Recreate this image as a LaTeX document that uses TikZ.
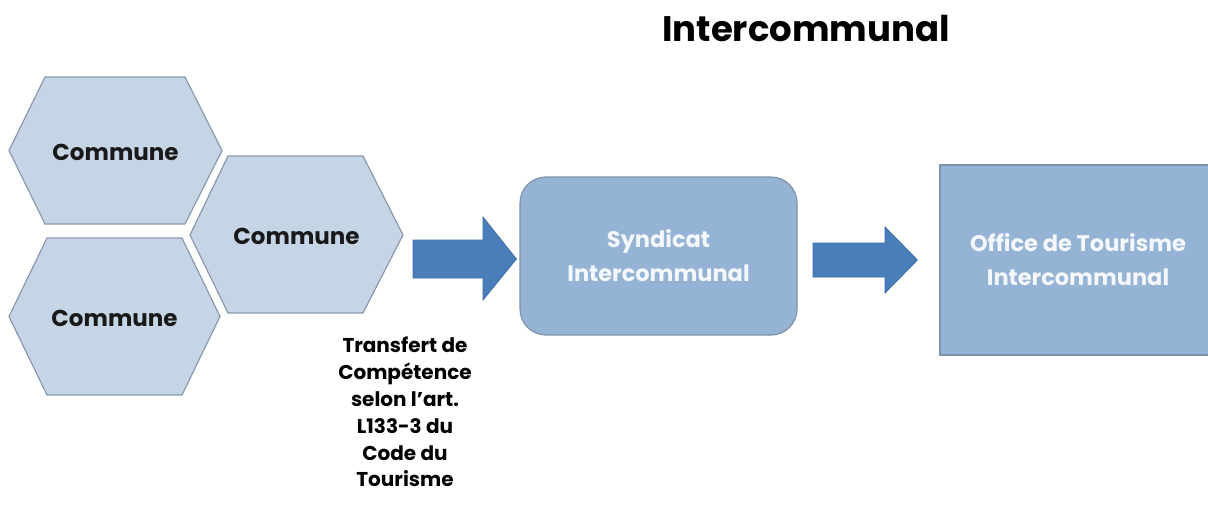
\documentclass[tikz,border=0pt]{standalone}
\usepackage{fontspec}
\setmainfont{Poppins}
\usetikzlibrary{calc}
\definecolor{hexfill}{HTML}{C6D5E6}
\definecolor{hexline}{HTML}{8A9AAE}
\definecolor{boxfill}{HTML}{95B3D4}
\definecolor{boxline}{HTML}{7E92A8}
\definecolor{arrowfill}{HTML}{4A7EBB}
\definecolor{arrowline}{HTML}{3F6EA5}
\definecolor{boxtext}{HTML}{F4F7FB}
\begin{document}
\begin{tikzpicture}[x=1pt,y=-1pt,
  hexa/.style={fill=hexfill,draw=hexline,line width=1.2pt,line join=miter},
  ctext/.style={font=\fontsize{23}{26}\selectfont\bfseries,text=black!90,inner sep=0pt},
  blockarrow/.style={fill=arrowfill,draw=arrowline,line width=0.8pt},
  bluebox/.style={fill=boxfill,draw=boxline,line width=1.2pt,align=center,text=boxtext,
    font=\fontsize{22.5}{34}\selectfont\bfseries,inner sep=0pt},
  caption/.style={align=center,font=\fontsize{20}{26.8}\selectfont\bfseries,inner sep=0pt,text=black}]
\useasboundingbox (0,0) rectangle (1208,519);
\fill[white] (0,0) rectangle (1208,519);
% title
\node[font=\fontsize{35.5}{40}\selectfont\bfseries,inner sep=0pt] (title) at (806,29) {Intercommunal};
% hexagons
\draw[hexa] (9,150.5) -- (45,77) -- (185,77) -- (222,150.5) -- (185,224) -- (45,224) -- cycle;
\node[ctext] (c1) at (115.5,152) {Commune};
\draw[hexa] (190,235) -- (228,156) -- (363,156) -- (403,235) -- (363,313) -- (228,313) -- cycle;
\node[ctext] (c2) at (296.5,236) {Commune};
\draw[hexa] (9,316.5) -- (47,238) -- (182,238) -- (220,316.5) -- (182,395) -- (47,395) -- cycle;
\node[ctext] (c3) at (114.5,318) {Commune};
% boxes
\node[bluebox,rounded corners=26pt,minimum width=277pt,minimum height=158pt] (syn) at (658.5,256) {Syndicat\\Intercommunal};
\node[bluebox,minimum width=276pt,minimum height=190pt] (ot) at (1078,260) {Office de Tourisme\\Intercommunal};
% arrows
\coordinate (a1s) at (413,259);
\coordinate (a2s) at (813,260);
\draw[blockarrow] ($(a1s)+(0,-19)$) -- ++(70,0) -- ++(0,-23) -- ($(syn.west)+(-3,3)$) -- (483,300) -- ++(0,-22) -- ($(a1s)+(0,19)$) -- cycle;
\draw[blockarrow] ($(a2s)+(0,-17)$) -- ++(72,0) -- ++(0,-16) -- ($(ot.west)+(-22,0)$) -- (885,293) -- ++(0,-16) -- ($(a2s)+(0,17)$) -- cycle;
% caption
\node[caption,anchor=north] (cap) at (405,337) {Transfert de\\Compétence\\selon l’art.\\L133-3 du\\Code du\\Tourisme};
\end{tikzpicture}
\end{document}
